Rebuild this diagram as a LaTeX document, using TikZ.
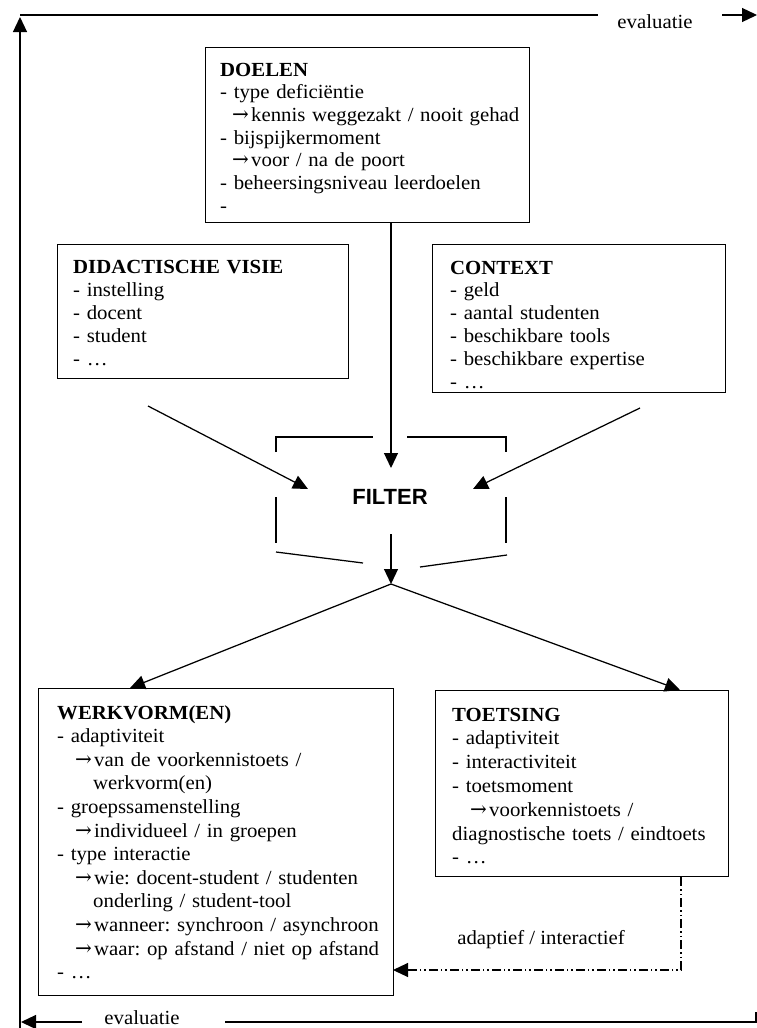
\documentclass[tikz,border=0pt]{standalone}
\usepackage{fontspec}
\usepackage{graphicx}
\setmainfont{Liberation Serif}[FakeStretch=1.04]
\setsansfont{Liberation Sans}
\newfontfamily\pijlfont{DejaVu Serif}
\usetikzlibrary{arrows.meta}
\frenchspacing
% small arrow used inside the list items
\newcommand{\pijl}[1][18pt]{\hspace*{#1}\makebox[19pt][l]{\scalebox{1.0}[1.05]{\pijlfont →}}}
\newcommand{\verder}[1][36pt]{\hspace*{#1}}
\begin{document}
\begin{tikzpicture}[x=1pt,y=-1pt,
  box/.style={draw, line width=1.3pt, inner sep=0pt, anchor=north west},
  tekst/.style={anchor=base west, inner sep=0pt, align=left, text width=340pt,
    font=\fontsize{20}{#1}\selectfont},
  tekst/.default=23.4,
  label/.style={inner sep=0pt, anchor=base, font=\fontsize{20}{23}\selectfont},
  lijn/.style={line width=1.25pt},
  pijlkop/.style={lijn, -{Triangle[length=15pt,width=14pt]}},
  streeppunt/.style={line width=1.1pt, dash pattern=on 9pt off 3pt on 1.5pt off 3pt on 1.5pt off 3pt},
]
\useasboundingbox (0,0) rectangle (757,1028);

% ---- boxes ----
\node[box, minimum width=324pt, minimum height=175pt] (doelen) at (205,47) {};
\node[box, minimum width=291pt, minimum height=134pt] (visie) at (57,244) {};
\node[box, minimum width=293pt, minimum height=148pt] (context) at (432,244) {};
\node[box, minimum width=355pt, minimum height=307pt] (werkvorm) at (38,688) {};
\node[box, minimum width=293pt, minimum height=186pt] (toetsing) at (435,690) {};

% ---- box contents ----
\node[tekst=22.7] (doelenT) at (220,76) {\textbf{DOELEN}\\
- type deficiëntie\\
\pijl[12pt]kennis weggezakt / nooit gehad\\
- bijspijkermoment\\
\pijl[12pt]voor / na de poort\\
- beheersingsniveau leerdoelen\\
-};

\node[tekst=23] (visieT) at (73,273) {\textbf{DIDACTISCHE VISIE}\\
- instelling\\
- docent\\
- student\\
- …};

\node[tekst=22.8] (contextT) at (450,274) {\textbf{CONTEXT}\\
- geld\\
- aantal studenten\\
- beschikbare tools\\
- beschikbare expertise\\
- …};

\node[tekst=23.6] (werkvormT) at (57,719) {\textbf{WERKVORM(EN)}\\
- adaptiviteit\\
\pijl van de voorkennistoets /\\
\verder werkvorm(en)\\
- groepssamenstelling\\
\pijl individueel / in groepen\\
- type interactie\\
\pijl wie: docent-student / studenten\\
\verder onderling / student-tool\\
\pijl wanneer: synchroon / asynchroon\\
\pijl waar: op afstand / niet op afstand\\
- …};

\node[tekst=23.8] (toetsingT) at (452,721) {\textbf{TOETSING}\\
- adaptiviteit\\
- interactiviteit\\
- toetsmoment\\
\pijl voorkennistoets /\\
diagnostische toets / eindtoets\\
- …};

% ---- filter ----
\node[font=\sffamily\bfseries\fontsize{22}{22}\selectfont, inner sep=0pt] (filter) at (390,497) {FILTER};
\draw[lijn] (276,452) -- (276,437) -- (373,437);
\draw[lijn] (407,437) -- (506,437) -- (506,452);
\draw[lijn] (276,497) -- (276,543);
\draw[lijn] (506,497) -- (506,543);
\draw[lijn] (276,552) -- (363,563);
\draw[lijn] (507,555) -- (420,567);

% ---- connectors into and out of the filter ----
\coordinate (fBoven) at (391,468);
\coordinate (dvUit) at (148,406);
\coordinate (fLinks) at (308,489);
\coordinate (cxUit) at (640,408);
\coordinate (fRechts) at (473,489);
\coordinate (fUit) at (391,534);
\coordinate (splits) at (391,584);
\coordinate (wIn) at (130,688);
\coordinate (tIn) at (680,690);

\draw[pijlkop] (fBoven |- doelen.south) -- (fBoven);
\draw[pijlkop] (dvUit) -- (fLinks);
\draw[pijlkop] (cxUit) -- (fRechts);
\draw[pijlkop] (fUit) -- (splits);
\draw[pijlkop] (splits) -- (wIn);
\draw[pijlkop] (splits) -- (tIn);

% ---- feedback from TOETSING to WERKVORM(EN) ----
\coordinate (tUit) at (681,0);
\coordinate (wTerug) at (393,970);
\draw[streeppunt, -{Triangle[length=15pt,width=14pt]}] (tUit |- toetsing.south) |- (wTerug);
\node[label] (adaptief) at (541,944) {adaptief / interactief};

% ---- evaluation loop ----
\coordinate (lOnder) at (20,1028);
\coordinate (lBoven) at (20,17);
\draw[pijlkop] (lOnder) -- (lBoven);
\coordinate (bLinks) at (20,15);
\coordinate (bEind) at (598,15);
\draw[lijn] (bLinks) -- (bEind);
\node[label] (evalBoven) at (655,28) {evaluatie};
\coordinate (bPijlStart) at (722,15);
\coordinate (bPijlEind) at (757,15);
\draw[pijlkop] (bPijlStart) -- (bPijlEind);

\coordinate (oRechts) at (756,1012);
\coordinate (oStart) at (225,1022);
\draw[lijn] (oRechts) |- (oStart);
\node[label] (evalOnder) at (142,1024) {evaluatie};
\coordinate (oPijlStart) at (82,1022);
\coordinate (oPijlEind) at (21,1022);
\draw[pijlkop] (oPijlStart) -- (oPijlEind);
\end{tikzpicture}
\end{document}
